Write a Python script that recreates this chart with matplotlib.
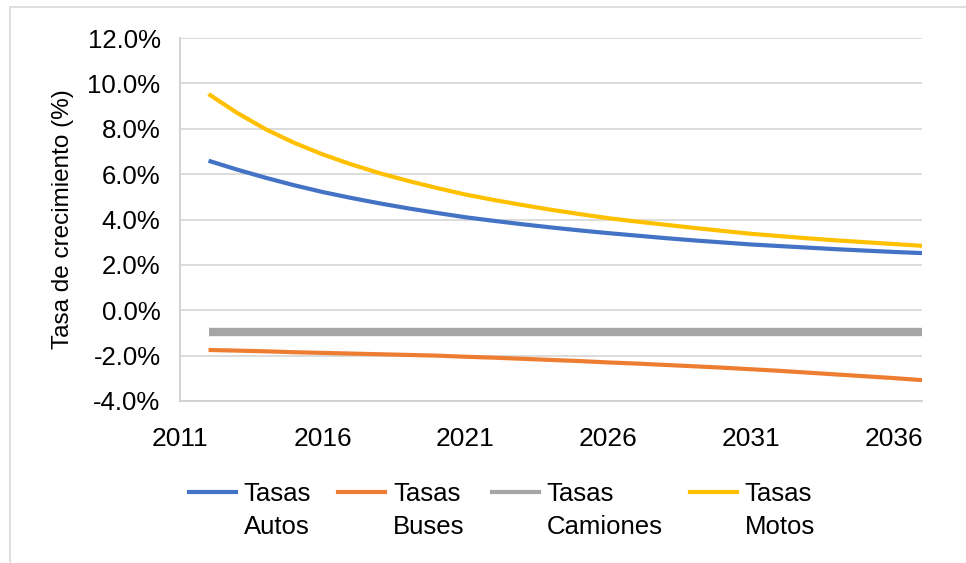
import numpy as np
import matplotlib
matplotlib.use("Agg")
import matplotlib.pyplot as plt
from matplotlib.lines import Line2D
from matplotlib.patches import Rectangle
from matplotlib.ticker import FuncFormatter
from matplotlib.legend_handler import HandlerLine2D

years = list(range(2012, 2038))
autos = [6.59, 6.20, 5.84, 5.51, 5.21, 4.95, 4.71, 4.49, 4.29, 4.10,
         3.94, 3.79, 3.65, 3.52, 3.40, 3.29, 3.18, 3.08, 2.99, 2.90,
         2.83, 2.76, 2.69, 2.63, 2.57, 2.52]
buses = [-1.75, -1.78, -1.81, -1.85, -1.88, -1.91, -1.94, -1.97, -2.00, -2.05,
         -2.09, -2.14, -2.19, -2.24, -2.30, -2.35, -2.41, -2.47, -2.53, -2.60,
         -2.67, -2.75, -2.83, -2.91, -2.99, -3.08]
camiones = [-0.95] * 26
motos = [9.53, 8.70, 7.98, 7.38, 6.87, 6.43, 6.04, 5.70, 5.39, 5.10,
         4.86, 4.64, 4.43, 4.24, 4.06, 3.91, 3.77, 3.63, 3.50, 3.37,
         3.27, 3.17, 3.08, 3.00, 2.92, 2.84]
series_labels = ["Tasas\nAutos", "Tasas\nBuses", "Tasas\nCamiones", "Tasas\nMotos"]
x_ticks = [2011, 2016, 2021, 2026, 2031, 2036]
y_ticks = [-4, -2, 0, 2, 4, 6, 8, 10, 12]

colors = ["#4472C4", "#ED7D31", "#A5A5A5", "#FFC000"]
widths = [3.0, 3.0, 6.0, 3.0]

plt.rcParams['font.family'] = ['Liberation Sans', 'DejaVu Sans']

fig = plt.figure(figsize=(9.66, 5.63), dpi=100)
ax = fig.add_axes([180/966, (563-401)/563, (922-180)/966, (401-38)/563])

for data, c, w in zip([autos, buses, camiones, motos], colors, widths):
    ax.plot(years, data, color=c, lw=w, solid_capstyle='butt', zorder=3)

ax.set_xlim(2011, 2037)
ax.set_ylim(-4, 12)
ax.set_xticks(x_ticks)
ax.set_yticks(y_ticks)
ax.yaxis.set_major_formatter(FuncFormatter(lambda v, p: f"{v:.1f}%"))
ax.grid(axis='y', color='#d9d9d9', lw=1.3, zorder=0)
ax.tick_params(axis='y', length=0, labelsize=18.5, colors='black', pad=14)
ax.tick_params(axis='x', length=0, labelsize=19, colors='black', pad=19)
for s in ['top', 'right']:
    ax.spines[s].set_visible(False)
for s in ['left', 'bottom']:
    ax.spines[s].set_color('#d0d0d0')
    ax.spines[s].set_linewidth(1.3)
ax.set_ylabel("Tasa de crecimiento (%)", fontsize=17.5, labelpad=10)


class UpHandler(HandlerLine2D):
    def __init__(self, shift, **kw):
        super().__init__(**kw)
        self.shift = shift

    def create_artists(self, legend, orig_handle, xdescent, ydescent, width,
                       height, fontsize, trans):
        arts = super().create_artists(legend, orig_handle, xdescent, ydescent,
                                      width, height, fontsize, trans)
        for a in arts:
            if isinstance(a, Line2D):
                a.set_ydata(np.asarray(a.get_ydata()) + self.shift)
        return arts


handles = [Line2D([], [], color=c, lw=3.0) for c in colors]
fs = 18.5
leg = fig.legend(handles, series_labels, loc='upper left',
                 bbox_to_anchor=(166/966, 1 - 459/563), ncol=4, frameon=False,
                 fontsize=fs, handlelength=1.83, handletextpad=0.3,
                 columnspacing=1.06,
                 handler_map={Line2D: UpHandler(shift=13.5)})
for t in leg.get_texts():
    t.set_linespacing(1.45)

fig.patches.append(Rectangle((10/966, -0.1), 1.2, 1.1 - 7/563,
                             transform=fig.transFigure, fill=False,
                             edgecolor='#d9d9d9', lw=1.2))

fig.savefig("out.png", dpi=100)
